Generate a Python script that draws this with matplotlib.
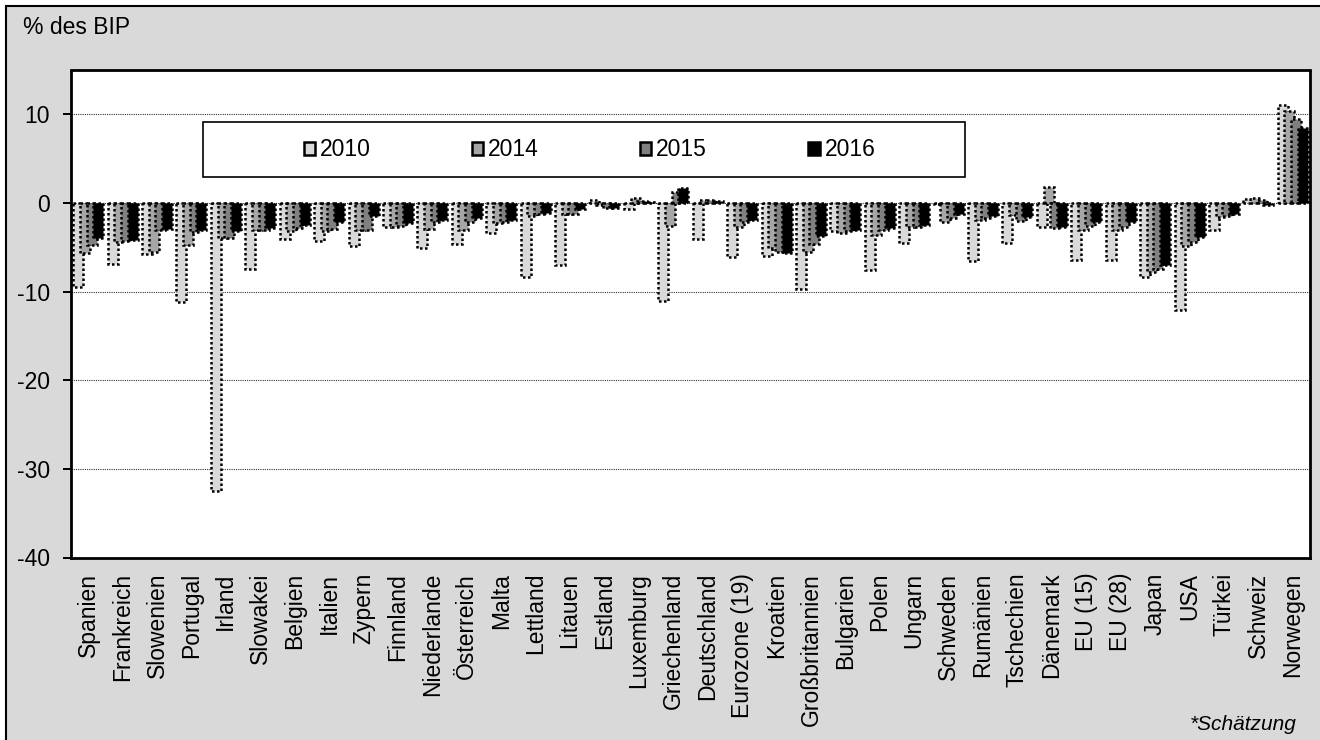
import matplotlib.pyplot as plt
import numpy as np
from matplotlib.patches import Patch, Rectangle


# Finanzierungssaldo des Staates in % des BIP, 2010 und 2014-2016

countries = ["Spanien", "Frankreich", "Slowenien", "Portugal", "Irland", "Slowakei",
             "Belgien", "Italien", "Zypern", "Finnland", "Niederlande", "Österreich",
             "Malta", "Lettland", "Litauen", "Estland", "Luxemburg", "Griechenland",
             "Deutschland", "Eurozone (19)", "Kroatien", "Großbritannien", "Bulgarien",
             "Polen", "Ungarn", "Schweden", "Rumänien", "Tschechien", "Dänemark",
             "EU (15)", "EU (28)", "Japan", "USA", "Türkei", "Schweiz", "Norwegen"]

years = ["2010", "2014", "2015", "2016"]

saldo_2010 = [-9.5, -6.9, -5.8, -11.2, -32.5, -7.5, -4.1, -4.3, -4.9, -2.7, -5.1, -4.6,
              -3.4, -8.3, -7.0, 0.3, -0.7, -11.1, -4.1, -6.1, -6.0, -9.7, -3.2, -7.6,
              -4.5, -0.1, -6.6, -4.5, -2.7, -6.4, -6.4, -8.3, -12.1, -3.0, 0.4, 11.0]
saldo_2014 = [-5.7, -4.4, -5.5, -4.7, -4.0, -3.1, -3.2, -3.2, -3.1, -2.7, -2.9, -3.0,
              -2.3, -1.5, -1.2, -0.2, 0.6, -2.6, 0.3, -2.7, -5.1, -5.5, -3.4, -3.6,
              -2.7, -2.1, -1.9, -1.4, 1.8, -3.1, -3.1, -7.8, -4.9, -1.6, 0.6, 10.4]
saldo_2015 = [-4.7, -4.3, -3.0, -3.3, -3.9, -3.0, -2.8, -2.9, -3.1, -2.6, -2.2, -2.2,
              -2.1, -1.3, -1.2, -0.6, 0.2, 1.2, 0.3, -2.1, -5.5, -4.6, -3.2, -3.0,
              -2.7, -1.7, -1.7, -2.0, -2.8, -2.6, -2.7, -7.4, -4.4, -1.5, 0.3, 9.5]
saldo_2016 = [-3.9, -4.2, -2.9, -3.1, -3.2, -2.8, -2.5, -2.1, -1.5, -2.3, -1.9, -1.7,
              -1.9, -1.1, -0.7, -0.6, 0.1, 1.7, 0.2, -1.9, -5.7, -3.7, -3.0, -2.8,
              -2.5, -1.2, -1.5, -1.6, -2.7, -2.2, -2.1, -7.0, -3.8, -1.2, -0.2, 8.5]

colors = ["#d9d9d9", "#a6a6a6", "#808080", "#000000"]
y_ticks = [-40, -30, -20, -10, 0, 10]


def main():
    plt.rcParams['font.family'] = ['Liberation Sans', 'DejaVu Sans']
    dotted = (0, (1, 1))

    fig = plt.figure(figsize=(13.2, 7.4), dpi=100, facecolor='white')

    # grauer Hintergrund mit Rahmen
    fig.patches.append(Rectangle((6 / 1320, -0.01), 1.02, 1 - 6 / 740 + 0.01,
                                 transform=fig.transFigure, facecolor='#d9d9d9',
                                 edgecolor='black', linewidth=1.5, zorder=-10))

    ax = fig.add_axes([71 / 1320, 1 - 557.5 / 740, 1239 / 1320, 487.5 / 740])
    ax.set_facecolor('white')

    series = [saldo_2010, saldo_2014, saldo_2015, saldo_2016]
    x = np.arange(len(countries))
    width = 0.29
    offsets = [-0.29, -0.097, 0.097, 0.29]

    for i, (values, off, col) in enumerate(zip(series, offsets, colors)):
        ax.bar(x + off, values, width, color=col, edgecolor='black',
               linewidth=1.8, linestyle=dotted, zorder=2 + i)

    ax.set_xlim(-0.5, len(countries) - 0.5)
    ax.set_ylim(-40, 15)
    ax.set_yticks(y_ticks)
    ax.set_yticklabels([str(t) for t in y_ticks], fontsize=16.5)
    ax.yaxis.grid(True, color='#333333', linestyle=dotted, linewidth=0.8, zorder=1)
    ax.set_axisbelow(True)

    ax.set_xticks(x)
    ax.set_xticklabels(countries, rotation=90, fontsize=16.5, va='top', ha='center')
    ax.tick_params(axis='x', length=0, pad=11)
    ax.tick_params(axis='y', direction='out', length=6, width=1.4, pad=9)

    for sp in ax.spines.values():
        sp.set_linestyle(dotted)
        sp.set_linewidth(2)
        sp.set_color('black')

    # Legende in eigenem Kasten
    fig.patches.append(Rectangle((203 / 1320, 1 - 177 / 740), 762 / 1320, 55 / 740,
                                 transform=fig.transFigure, facecolor='white',
                                 edgecolor='black', linewidth=1.2, zorder=5))
    handles = [Patch(facecolor=c, edgecolor='black', linewidth=1.8) for c in colors]
    leg = fig.legend(handles, years, loc='center', ncol=4, frameon=False,
                     bbox_to_anchor=(589.5 / 1320, 1 - 150 / 740), fontsize=16.5,
                     handlelength=0.5, handleheight=0.5, handletextpad=0.22,
                     columnspacing=4.4, borderpad=0)
    leg.set_zorder(6)

    fig.text(23 / 1320, 1 - 27 / 740, "% des BIP", fontsize=16.5, va='center', ha='left')
    fig.text(1297 / 1320, 1 - 724 / 740, "*Schätzung", fontsize=15, style='italic',
             va='center', ha='right')

    fig.savefig('out.png', dpi=100, facecolor=fig.get_facecolor())


if __name__ == "__main__":
    main()
